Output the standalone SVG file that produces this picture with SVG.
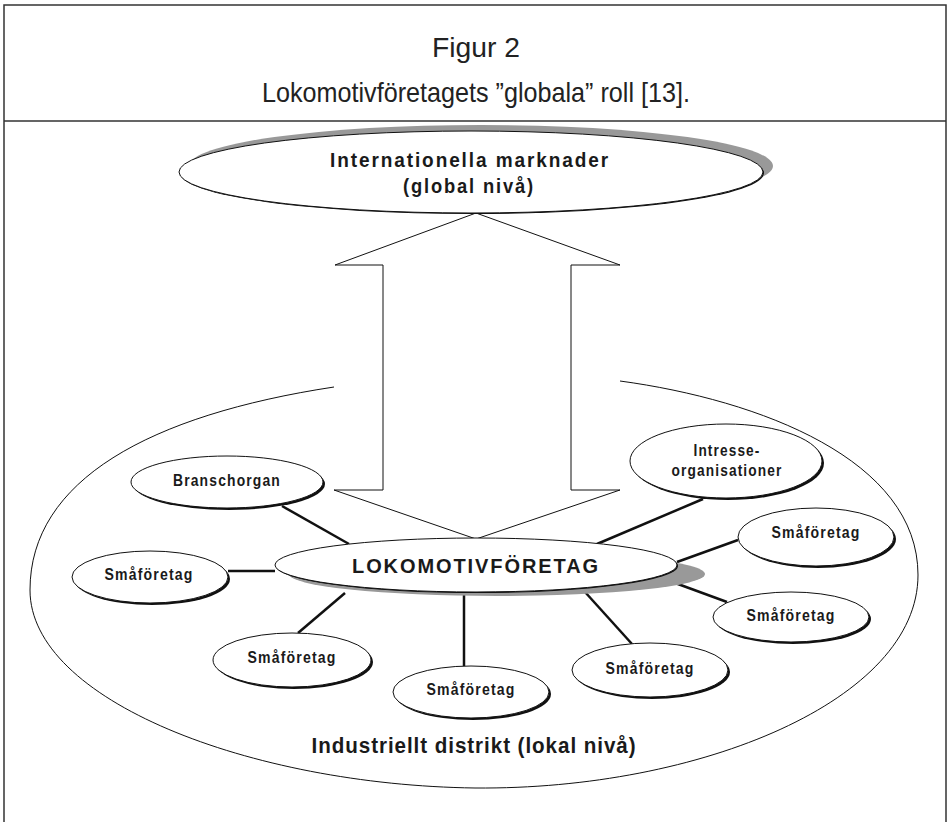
<svg xmlns="http://www.w3.org/2000/svg" width="950" height="822" viewBox="0 0 950 822">
<style>
.frame{fill:none;stroke:#333;stroke-width:1.5}
.title{font-family:"Liberation Sans",Arial,sans-serif;font-size:28px;fill:#222;text-anchor:middle}
.lbl{font-family:"Liberation Sans",Arial,sans-serif;font-weight:bold;fill:#1a1a1a;text-anchor:middle}
.s15{font-size:17px;letter-spacing:1.4px}
.sh{fill:#111}
.el{fill:#fff;stroke:#111;stroke-width:1}
.gray{fill:#999}
.conn line{stroke:#111;stroke-width:2.5}
.thin{fill:none;stroke:#111;stroke-width:1}
</style>
<rect width="950" height="822" fill="#fff"/>
<g id="frame">
  <path class="frame" d="M4,822 V5 H946 V822 M4,121 H946"/>
  <text class="title" x="476" y="57" textLength="88" lengthAdjust="spacingAndGlyphs">Figur 2</text>
  <text class="title" x="476" y="102" textLength="428" lengthAdjust="spacingAndGlyphs">Lokomotivföretagets ”globala” roll [13].</text>
</g>
<g id="district">
  <path class="thin" d="M334,387 C150,415 30,480 30,590 C30,700 250,785 475,788 C700,790 918,700 918,575 C918,460 760,400 620,381"/>
  <text class="lbl" x="474" y="753" font-size="22" letter-spacing="1" textLength="325" lengthAdjust="spacingAndGlyphs">Industriellt distrikt (lokal nivå)</text>
</g>
<g id="arrow">
  <polygon class="thin" fill="#fff" points="476,213 620,265 571,265 571,490 620,490 476,539 334,490 383,490 383,265 335,265"/>
</g>
<g id="global">
  <ellipse class="gray" cx="481" cy="166" rx="292" ry="41"/>
  <ellipse class="sh" cx="472" cy="173" rx="292" ry="41"/>
  <ellipse class="el" cx="471" cy="172" rx="292" ry="41"/>
  <text class="lbl" x="470" y="167" font-size="20" letter-spacing="2" textLength="280" lengthAdjust="spacingAndGlyphs">Internationella marknader</text>
  <text class="lbl" x="469" y="193" font-size="20" letter-spacing="2" textLength="132" lengthAdjust="spacingAndGlyphs">(global nivå)</text>
</g>
<g class="conn" id="connectors">
  <line x1="282" y1="506" x2="349" y2="544"/>
  <line x1="228" y1="571" x2="275" y2="571"/>
  <line x1="345" y1="593" x2="298" y2="633"/>
  <line x1="464" y1="592" x2="464" y2="666"/>
  <line x1="585" y1="592" x2="632" y2="644"/>
  <line x1="667" y1="580" x2="727" y2="602"/>
  <line x1="677" y1="562" x2="738" y2="540"/>
  <line x1="597" y1="544" x2="703" y2="499"/>
</g>
<g id="lokomotiv">
  <ellipse class="gray" cx="497" cy="574" rx="208" ry="22"/>
  <ellipse class="sh" cx="477" cy="566" rx="201" ry="27"/>
  <ellipse class="el" cx="476" cy="565" rx="201" ry="27"/>
  <text class="lbl" x="476" y="573" font-size="21" letter-spacing="2" textLength="248" lengthAdjust="spacingAndGlyphs">LOKOMOTIVFÖRETAG</text>
</g>
<g id="branschorgan">
  <ellipse class="sh" cx="229" cy="484" rx="96" ry="26"/>
  <ellipse class="el" cx="227" cy="482" rx="96" ry="26"/>
  <text class="lbl s15" x="227" y="486" textLength="108" lengthAdjust="spacingAndGlyphs">Branschorgan</text>
</g>
<g id="intresse">
  <ellipse class="sh" cx="728" cy="463" rx="96" ry="37"/>
  <ellipse class="el" cx="726" cy="461" rx="96" ry="37"/>
  <text class="lbl s15" x="727" y="456" textLength="67" lengthAdjust="spacingAndGlyphs">Intresse-</text>
  <text class="lbl s15" x="727" y="476" textLength="111" lengthAdjust="spacingAndGlyphs">organisationer</text>
</g>
<g id="sma-left">
  <ellipse class="sh" cx="152" cy="579" rx="78" ry="26"/>
  <ellipse class="el" cx="150" cy="577" rx="78" ry="26"/>
  <text class="lbl s15" x="149" y="580" textLength="89" lengthAdjust="spacingAndGlyphs">Småföretag</text>
</g>
<g id="sma-upper-right">
  <ellipse class="sh" cx="818" cy="539" rx="78" ry="29"/>
  <ellipse class="el" cx="816" cy="537" rx="78" ry="29"/>
  <text class="lbl s15" x="816" y="538" textLength="89" lengthAdjust="spacingAndGlyphs">Småföretag</text>
</g>
<g id="sma-right">
  <ellipse class="sh" cx="793" cy="619" rx="78" ry="25"/>
  <ellipse class="el" cx="791" cy="617" rx="78" ry="25"/>
  <text class="lbl s15" x="791" y="621" textLength="89" lengthAdjust="spacingAndGlyphs">Småföretag</text>
</g>
<g id="sma-lower-left">
  <ellipse class="sh" cx="294" cy="662" rx="79" ry="27"/>
  <ellipse class="el" cx="292" cy="660" rx="79" ry="27"/>
  <text class="lbl s15" x="292" y="663" textLength="89" lengthAdjust="spacingAndGlyphs">Småföretag</text>
</g>
<g id="sma-bottom">
  <ellipse class="sh" cx="473" cy="694" rx="78" ry="26"/>
  <ellipse class="el" cx="471" cy="692" rx="78" ry="26"/>
  <text class="lbl s15" x="471" y="695" textLength="89" lengthAdjust="spacingAndGlyphs">Småföretag</text>
</g>
<g id="sma-lower-right">
  <ellipse class="sh" cx="652" cy="672" rx="78" ry="27"/>
  <ellipse class="el" cx="650" cy="670" rx="78" ry="27"/>
  <text class="lbl s15" x="650" y="674" textLength="89" lengthAdjust="spacingAndGlyphs">Småföretag</text>
</g>
</svg>
